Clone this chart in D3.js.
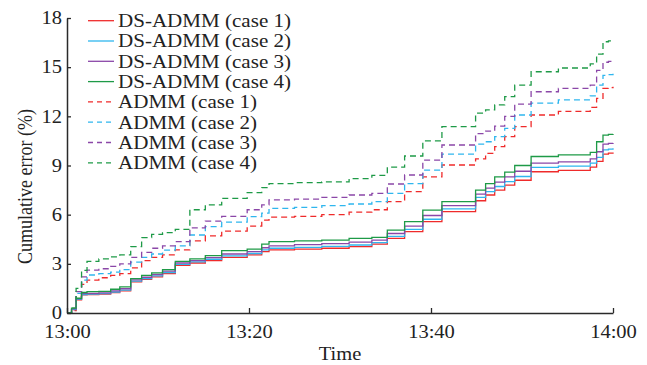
<!DOCTYPE html>
<html>
<head>
<meta charset="utf-8">
<script src="https://cdn.jsdelivr.net/npm/d3@7"></script>
<style>
  html, body { margin: 0; padding: 0; background: #fff; }
  svg { display: block; }
  text { font-family: "Liberation Serif", "Times New Roman", serif; fill: #222; }
</style>
</head>
<body>
<svg id="chart" width="647" height="365"></svg>
<script>
// ---- data (minutes after 13:00) ----
const times = [0, 0.5, 1.0, 1.6, 2.2, 3.5, 4.8, 5.8, 7.0, 8.2, 9.3, 10.5, 11.9, 13.5, 15.2, 17.0, 19.8, 21.4, 22.2, 25, 28, 31, 33.5, 35.2, 37.1, 39.1, 41.2, 44.9, 46.0, 47.0, 48.1, 49.2, 51.0, 54.0, 57.5, 58.2, 58.9, 59.5, 60];

const dsCase1 = [0, 0.2, 0.8, 1.1, 1.12, 1.15, 1.25, 1.35, 1.9, 2.05, 2.2, 2.4, 2.9, 3.05, 3.2, 3.4, 3.55, 3.75, 3.85, 3.9, 3.95, 4.05, 4.2, 4.55, 4.96, 5.57, 6.18, 6.85, 7.2, 7.5, 7.8, 8.1, 8.62, 8.7, 8.9, 9.25, 9.7, 9.75, 9.8];
const dsCase2 = [0, 0.22, 0.83, 1.13, 1.15, 1.18, 1.28, 1.4, 1.95, 2.1, 2.27, 2.47, 2.97, 3.12, 3.28, 3.48, 3.63, 3.85, 3.95, 4.0, 4.06, 4.15, 4.3, 4.68, 5.1, 5.72, 6.35, 7.05, 7.4, 7.72, 8.02, 8.33, 8.88, 8.96, 9.15, 9.5, 9.95, 10.0, 10.05];
const dsCase3 = [0, 0.25, 0.86, 1.18, 1.2, 1.23, 1.35, 1.48, 2.02, 2.18, 2.35, 2.55, 3.05, 3.2, 3.38, 3.6, 3.75, 3.98, 4.1, 4.17, 4.23, 4.33, 4.45, 4.85, 5.3, 5.95, 6.55, 7.25, 7.62, 7.98, 8.3, 8.65, 9.15, 9.22, 9.4, 9.84, 10.3, 10.35, 10.38];
const dsCase4 = [0, 0.3, 0.9, 1.25, 1.3, 1.32, 1.45, 1.6, 2.1, 2.3, 2.45, 2.65, 3.15, 3.3, 3.5, 3.8, 3.9, 4.2, 4.35, 4.4, 4.45, 4.55, 4.62, 5.06, 5.57, 6.28, 6.79, 7.5, 7.9, 8.3, 8.6, 9.0, 9.55, 9.65, 9.8, 10.45, 10.85, 10.9, 10.92];

const admmCase1 = [0, 0.15, 1.0, 1.75, 2.0, 2.15, 2.3, 2.4, 2.75, 3.2, 3.4, 3.55, 3.85, 4.4, 4.7, 5.0, 5.3, 5.67, 5.85, 5.9, 6.0, 6.15, 6.3, 6.8, 7.4, 8.3, 9.03, 9.4, 9.74, 10.15, 10.76, 11.37, 12.08, 12.3, 12.55, 13.1, 13.7, 13.75, 13.8];
const admmCase2 = [0, 0.2, 1.2, 2.0, 2.32, 2.4, 2.5, 2.65, 3.1, 3.4, 3.6, 3.84, 4.1, 4.76, 5.27, 5.55, 5.88, 6.1, 6.39, 6.45, 6.55, 6.65, 6.8, 7.3, 7.9, 8.72, 9.7, 10.3, 10.45, 10.76, 11.27, 12.08, 12.8, 13.0, 13.25, 13.9, 14.5, 14.55, 14.6];
const admmCase3 = [0, 0.25, 1.3, 2.2, 2.62, 2.7, 2.85, 3.0, 3.4, 3.7, 3.95, 4.1, 4.35, 5.2, 5.6, 5.9, 6.3, 6.6, 6.9, 6.95, 7.05, 7.2, 7.3, 7.87, 8.42, 9.33, 10.25, 10.95, 11.1, 11.4, 12.0, 12.75, 13.5, 13.7, 13.9, 14.8, 15.3, 15.35, 15.4];
const admmCase4 = [0, 0.3, 1.5, 2.6, 3.15, 3.3, 3.42, 3.55, 4.05, 4.6, 4.8, 4.9, 5.1, 6.3, 6.6, 7.0, 7.35, 7.65, 7.9, 7.95, 8.0, 8.2, 8.4, 8.9, 9.58, 10.5, 11.37, 12.2, 12.4, 12.7, 13.2, 13.9, 14.72, 14.95, 15.2, 15.8, 16.55, 16.6, 16.65];

const seriesNames = ["DS-ADMM (case 1)", "DS-ADMM (case 2)", "DS-ADMM (case 3)", "DS-ADMM (case 4)",
                     "ADMM (case 1)", "ADMM (case 2)", "ADMM (case 3)", "ADMM (case 4)"];
const seriesValues = [dsCase1, dsCase2, dsCase3, dsCase4, admmCase1, admmCase2, admmCase3, admmCase4];
const seriesColors = ["#ef2b2b", "#2fb6ee", "#8b47a8", "#1e9a47", "#ef2b2b", "#2fb6ee", "#8b47a8", "#1e9a47"];
const seriesDashed = [false, false, false, false, true, true, true, true];

const xTickValues = [0, 20, 40, 60];
const xTickLabels = ["13:00", "13:20", "13:40", "14:00"];
const yTickValues = [0, 3, 6, 9, 12, 15, 18];

// ---- layout ----
const W = 647, H = 365;
const margin = { left: 67, right: 34, top: 18, bottom: 52 };
const innerW = W - margin.left - margin.right;
const innerH = H - margin.top - margin.bottom;
const SX = 1.14; // horizontal stretch of the reference's glyphs
const FS = 18;

const svg = d3.select("#chart");
const g = svg.append("g").attr("transform", `translate(${margin.left},${margin.top})`);

const x = d3.scaleLinear().domain([0, 60]).range([0, innerW]);
const y = d3.scaleLinear().domain([0, 18]).range([innerH, 0]);

// ---- lines ----
const line = d3.line()
  .x(d => x(d[0]))
  .y(d => y(d[1]))
  .curve(d3.curveStepAfter);

const order = [4, 5, 6, 7, 0, 1, 2, 3];
order.forEach(i => {
  const pts = times.map((t, k) => [t, seriesValues[i][k]]);
  g.append("path")
    .datum(pts)
    .attr("fill", "none")
    .attr("stroke", seriesColors[i])
    .attr("stroke-width", 1.3)
    .attr("stroke-dasharray", seriesDashed[i] ? "6,4" : null)
    .attr("d", line);
});

// ---- axes ----
function stretchText(sel) {
  sel.each(function () {
    const t = d3.select(this);
    const tx = +t.attr("x") || 0, ty = +t.attr("y") || 0;
    t.attr("x", 0).attr("y", 0)
     .attr("transform", `translate(${tx},${ty}) scale(${SX},1)`);
  });
}

const xAxis = d3.axisBottom(x)
  .tickValues(xTickValues)
  .tickFormat((d, i) => xTickLabels[i])
  .tickSizeInner(-5)
  .tickSizeOuter(0)
  .tickPadding(12);

const gx = g.append("g").attr("transform", `translate(0,${innerH})`).call(xAxis);

const yAxis = d3.axisLeft(y)
  .tickValues(yTickValues)
  .tickFormat(d3.format("d"))
  .tickSizeInner(-4)
  .tickSizeOuter(0)
  .tickPadding(5);

const gy = g.append("g").call(yAxis);

[gx, gy].forEach(ax => {
  ax.select(".domain").attr("stroke", "#2a2a2a").attr("stroke-width", 1.5);
  ax.selectAll(".tick line").attr("stroke", "#2a2a2a").attr("stroke-width", 1.3);
  ax.selectAll(".tick text")
    .attr("font-family", "Liberation Serif, Times New Roman, serif")
    .attr("font-size", FS)
    .attr("fill", "#222");
});
stretchText(gx.selectAll(".tick text"));
stretchText(gy.selectAll(".tick text"));

// axis titles
svg.append("text")
  .attr("transform", `translate(${margin.left + innerW / 2},360) scale(${SX},1)`)
  .attr("text-anchor", "middle")
  .attr("font-size", FS)
  .text("Time");

svg.append("text")
  .attr("transform", `translate(32,264) scale(${SX},1) rotate(-90)`)
  .attr("text-anchor", "start")
  .attr("font-size", FS)
  .text("Cumulative error (%)");

// ---- legend ----
const legend = svg.append("g");
seriesNames.forEach((name, i) => {
  const cy = 20.7 + i * 20.3;
  legend.append("line")
    .attr("x1", 88).attr("x2", 114)
    .attr("y1", cy).attr("y2", cy)
    .attr("stroke", seriesColors[i])
    .attr("stroke-width", 1.3)
    .attr("stroke-dasharray", seriesDashed[i] ? "5,4" : null);
  legend.append("text")
    .attr("transform", `translate(118,${cy}) scale(${SX + 0.03},1)`)
    .attr("dy", "0.35em")
    .attr("font-size", FS)
    .text(name);
});
</script>
</body>
</html>
